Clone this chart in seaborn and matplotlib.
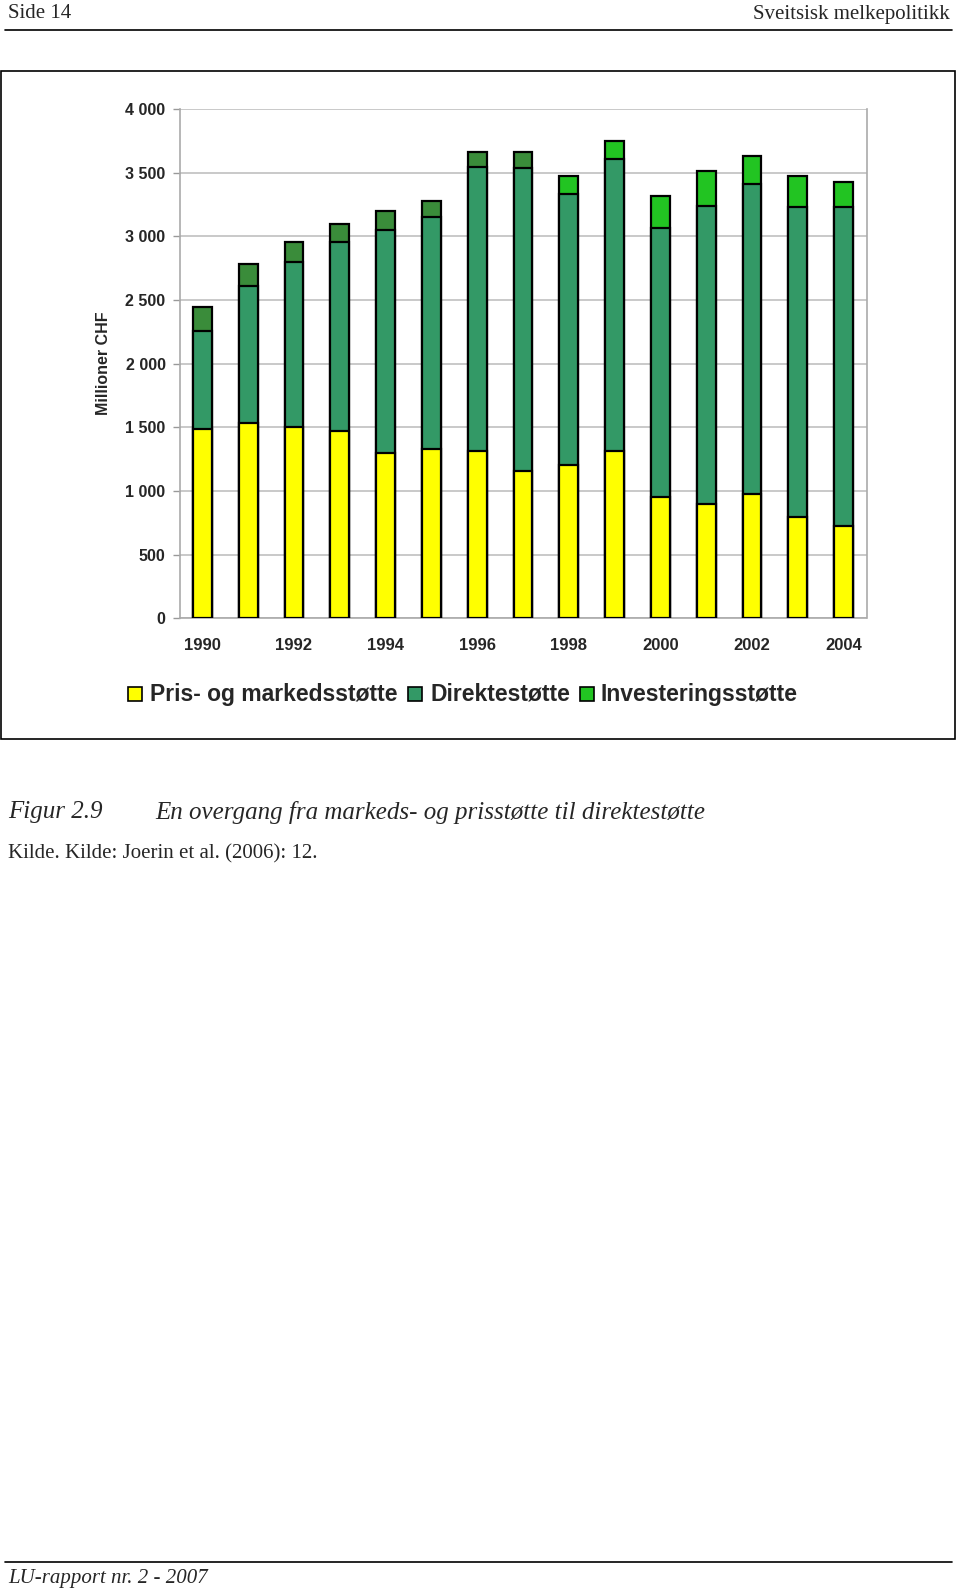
import matplotlib
matplotlib.use("Agg")
import matplotlib.pyplot as plt
from matplotlib.lines import Line2D
from matplotlib.patches import Rectangle
import seaborn as sns
import pandas as pd
import numpy as np

years = [1990, 1991, 1992, 1993, 1994, 1995, 1996, 1997, 1998, 1999, 2000, 2001, 2002, 2003, 2004]
pris = [1484, 1536, 1500, 1471, 1296, 1332, 1314, 1159, 1202, 1316, 955, 900, 976, 796, 727]
direkte = [772, 1076, 1298, 1484, 1756, 1822, 2233, 2375, 2128, 2289, 2113, 2336, 2435, 2437, 2503]
invest = [186, 170, 155, 139, 144, 121, 115, 126, 146, 146, 246, 277, 220, 241, 199]
series_names = ["Pris- og markedsstøtte", "Direktestøtte", "Investeringsstøtte"]
ytick_vals = [0, 500, 1000, 1500, 2000, 2500, 3000, 3500, 4000]
ytick_labels = ["0", "500", "1 000", "1 500", "2 000", "2 500", "3 000", "3 500", "4 000"]

C_PRIS = "#ffff00"
C_DIR = "#339966"
C_INV_OLD = "#3a8c3a"
C_INV = "#22c422"

sns.set_theme(style="white")
plt.rcParams["font.family"] = ["Liberation Sans", "DejaVu Sans"]

W, H = 960, 1589
fig = plt.figure(figsize=(W / 100, H / 100), dpi=100)

df = pd.DataFrame({"year": [str(y) for y in years], "pris": pris, "direkte": direkte, "invest": invest})
df["lvl2"] = df["pris"] + df["direkte"]
df["lvl3"] = df["lvl2"] + df["invest"]

left, right, top, bottom = 179.5, 866.5, 109.0, 618.3
ax = fig.add_axes([left / W, 1 - bottom / H, (right - left) / W, (bottom - top) / H])

inv_cols = [C_INV_OLD if y < 1998 else C_INV for y in years]
bw = 0.41
sns.barplot(data=df, x="year", y="lvl3", hue="year", palette=inv_cols, legend=False, saturation=1,
            width=bw, edgecolor="black", linewidth=1.6, ax=ax, zorder=3)
sns.barplot(data=df, x="year", y="lvl2", color=C_DIR, saturation=1,
            width=bw, edgecolor="black", linewidth=1.6, ax=ax, zorder=3)
sns.barplot(data=df, x="year", y="pris", color=C_PRIS, saturation=1,
            width=bw, edgecolor="black", linewidth=1.6, ax=ax, zorder=3)
for p in ax.patches:
    p.set_zorder(3)

ax.set_xlim(-0.5, len(years) - 0.5)
ax.set_ylim(0, 4000)
ax.set_yticks(ytick_vals)
ax.set_yticklabels(ytick_labels, fontsize=11.5, fontweight="bold")
ax.set_xticks(range(0, len(years), 2))
ax.set_xticklabels([str(y) for y in years[::2]], fontsize=12, fontweight="bold")
ax.set_xticks(np.arange(-0.5, len(years), 1.0), minor=True)
ax.tick_params(axis="x", which="major", length=0, pad=14)
ax.tick_params(axis="x", which="minor", length=5, color="#999999", width=1, direction="out")
ax.tick_params(axis="y", length=5, color="#999999", width=1, direction="out", pad=5, left=True)
ax.set_xlabel("")
ax.set_ylabel("Millioner CHF", fontsize=11.5, fontweight="bold", labelpad=10)
ax.grid(axis="y", color="#c0c0c0", linewidth=1.2, zorder=0)
ax.set_axisbelow(True)
for s in ["left", "bottom", "right"]:
    ax.spines[s].set_visible(True)
    ax.spines[s].set_color("#aaaaaa")
    ax.spines[s].set_linewidth(1.2)
ax.spines["top"].set_visible(False)

# legend (drawn by hand so that the three labels share one baseline)
leg_colors = [C_PRIS, C_DIR, C_INV]
leg_box_x = [128, 408, 580]
leg_text_x = [150, 430, 601]
for col, bx, tx, name in zip(leg_colors, leg_box_x, leg_text_x, series_names):
    fig.add_artist(Rectangle((bx / W, 1 - 701 / H), 14 / W, 14 / H, transform=fig.transFigure,
                             facecolor=col, edgecolor="black", linewidth=1.2))
    fig.text(tx / W, 1 - 700.5 / H, name, fontsize=16.5, fontweight="bold", va="baseline", ha="left")

# chart frame
fig.add_artist(Rectangle((1 / W, 1 - 739 / H), 954 / W, 668 / H, transform=fig.transFigure,
                         fill=False, edgecolor="black", linewidth=1.2))

serif = ["Liberation Serif", "DejaVu Serif"]
# header
fig.text(8 / W, 1 - 14 / H, "Side 14", family=serif, fontsize=15, va="center", ha="left")
fig.text(950 / W, 1 - 14 / H, "Sveitsisk melkepolitikk", family=serif, fontsize=15, va="center", ha="right")
fig.add_artist(Line2D([5 / W, 952 / W], [1 - 30 / H, 1 - 30 / H], transform=fig.transFigure, color="black", linewidth=1.2))

# caption
fig.text(8 / W, 1 - 812 / H, "Figur 2.9", family=serif, style="italic", fontsize=18, va="center", ha="left")
fig.text(155 / W, 1 - 812 / H, "En overgang fra markeds- og prisstøtte til direktestøtte", family=serif,
         style="italic", fontsize=18, va="center", ha="left")
fig.text(8 / W, 1 - 854 / H, "Kilde. Kilde: Joerin et al. (2006): 12.", family=serif, fontsize=15, va="center", ha="left")

# footer
fig.add_artist(Line2D([5 / W, 952 / W], [1 - 1562 / H, 1 - 1562 / H], transform=fig.transFigure, color="black", linewidth=1.2))
fig.text(8 / W, 1 - 1578 / H, "LU-rapport nr. 2 - 2007", family=serif, style="italic", fontsize=15, va="center", ha="left")

fig.savefig("out.png", dpi=100)
